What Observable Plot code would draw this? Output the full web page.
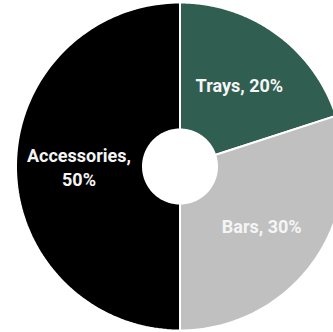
<!DOCTYPE html>
<html>
<head>
<meta charset="utf-8">
<script src="https://cdn.jsdelivr.net/npm/d3@7"></script>
<script src="https://cdn.jsdelivr.net/npm/@observablehq/plot@0.6"></script>
<style>
  html, body { margin: 0; padding: 0; background: #fff; }
  #chart svg { display: block; }
</style>
</head>
<body>
<div id="chart"></div>
<script>
const categories = ["Trays", "Bars", "Accessories"];
const shares = [20, 30, 50];
const colors = ["#305e50", "#c0c0c0", "#000000"];

const R = 164, r0 = 37, labelR = 101;
const pie = d3.pie().sort(null).value(d => d.value);
const arcs = pie(categories.map((c, i) => ({name: c, value: shares[i], color: colors[i]})));

// Build slice outlines (angles measured clockwise from top)
const pt = (a, rad) => [rad * Math.sin(a), rad * Math.cos(a)];
const slices = [];
arcs.forEach(a => {
  const n = 120;
  const outer = d3.range(n + 1).map(k => pt(a.startAngle + (a.endAngle - a.startAngle) * k / n, R));
  const inner = d3.range(n + 1).map(k => pt(a.endAngle - (a.endAngle - a.startAngle) * k / n, r0));
  [...outer, ...inner, outer[0]].forEach(([x, y], k) => slices.push({name: a.data.name, color: a.data.color, x, y, k}));
});
const labels = arcs.map(a => {
  const m = (a.startAngle + a.endAngle) / 2;
  const [x, y] = pt(m, labelR);
  return {x, y, text: a.data.name === "Accessories" ? `${a.data.name},\n${a.data.value}%` : `${a.data.name}, ${a.data.value}%`};
});

const chart = Plot.plot({
  width: 333, height: 332,
  margin: 0,
  x: {domain: [-179.5, 153.5], range: [0, 333], axis: null},
  y: {domain: [-166, 166], range: [332, 0], axis: null},
  marks: [
    Plot.line(slices, {x: "x", y: "y", z: "name", fill: "color", stroke: "#fff", strokeWidth: 2, strokeLinejoin: "round", curve: "linear"}),
    Plot.text(labels, {x: "x", y: "y", text: "text", fill: "#f5f5f5", fontSize: 18, fontWeight: "bold", fontFamily: "Roboto", lineHeight: 1.3})
  ]
});
chart.setAttribute("font-family", "Roboto");
document.getElementById("chart").append(chart);
</script>
</body>
</html>
